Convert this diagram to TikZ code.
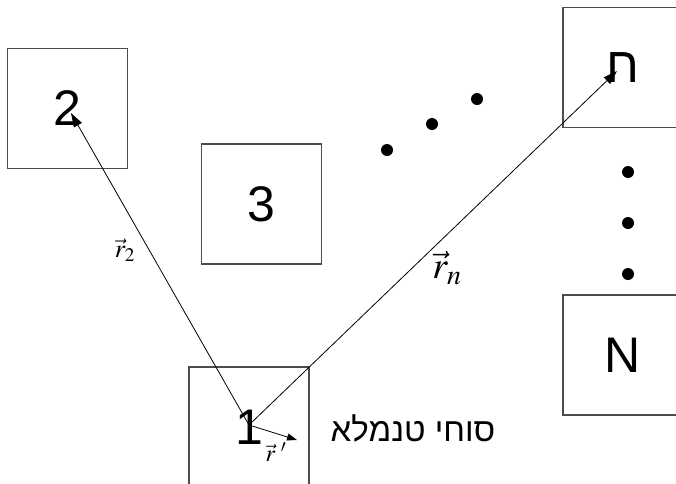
\documentclass[tikz,border=0pt]{standalone}
\usepackage{mathptmx}
\usepackage{fontspec}
\setmainfont{Liberation Sans}
\newfontfamily\hebfont[Script=Hebrew]{Liberation Sans}
\TeXXeTstate=1
\usetikzlibrary{arrows.meta}

\begin{document}
\begin{tikzpicture}[x=1pt, y=-1pt, >={Triangle[length=14pt, width=9pt]},
    cell/.style={draw=black!70, line width=1.2pt, minimum size=120pt, inner sep=0pt, font=\fontsize{50}{50}\selectfont},
    blob/.style={circle, fill=black, inner sep=0pt, minimum size=12pt}]
        \useasboundingbox (0,0) rectangle (676,483);

        \node[cell] (box2) at (67.5,108.5) {2};
        \node[cell] (box3) at (261.5,204) {3};
        \node[cell] (box1) at (249,427) {1};
        \node[cell] (boxn) at (623,67.5) {\hebfont ח};
        \node[cell] (boxN) at (623,355) {N};

        \path
        (249,425) coordinate (o)
        (71,113) coordinate (t2)
        (617,71) coordinate (tn)
        (297,440) coordinate (tr)
        ;

        \foreach \i/\x/\y in {1/387/150, 2/432/124, 3/477/99}
            \node[blob] (d\i) at (\x,\y) {};
        \foreach \i/\y in {1/172, 2/223, 3/274}
            \node[blob] (v\i) at (628,\y) {};

        \draw[line width=0.8pt, ->] (o) -- (t2);
        \draw[line width=0.8pt, ->] (o) -- (tn);
        \draw[line width=0.8pt, >={Triangle[length=10pt, width=7pt]}, ->] (o) -- (tr);

        \node[font=\fontsize{26}{26}\selectfont] (r2) at (125,250) {$\vec{r}_2$};
        \node[font=\fontsize{38}{38}\selectfont] (rn) at (447,268) {$\vec{r}_n$};
        \node[font=\fontsize{24}{24}\selectfont, inner sep=0pt] (rp) at (276,452) {$\vec{r}\;'$};
        \node[font=\fontsize{33}{33}\selectfont] (ref) at (413,428) {\hebfont\beginR סוחי טנמלא\endR};
\end{tikzpicture}
\end{document}
